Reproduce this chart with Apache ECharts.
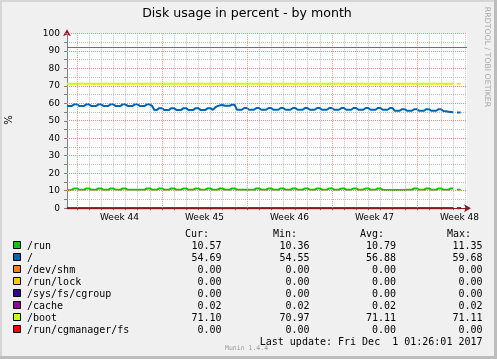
<!DOCTYPE html>
<html><head><meta charset="utf-8">
<script src="https://cdn.jsdelivr.net/npm/echarts@6/dist/echarts.min.js"></script>
<style>html,body{margin:0;padding:0;background:#f0f0f0}#c{width:497px;height:359px}</style>
</head><body><div id="c"></div>
<script>
// ---------- data ----------
const titleText = 'Disk usage in percent - by month';
const weekLabels = ['Week 44', 'Week 45', 'Week 46', 'Week 47', 'Week 48'];
const seriesNames = ['/run', '/', '/dev/shm', '/run/lock', '/sys/fs/cgroup', '/cache', '/boot', '/run/cgmanager/fs'];
const seriesColors = ['#00cc00', '#0066b3', '#ff8000', '#ffcc00', '#330099', '#990099', '#ccff00', '#ff0000'];
const curValues = ['10.57', '54.69', '0.00', '0.00', '0.00', '0.02', '71.10', '0.00'];
const minValues = ['10.36', '54.55', '0.00', '0.00', '0.00', '0.02', '70.97', '0.00'];
const avgValues = ['10.79', '56.88', '0.00', '0.00', '0.00', '0.02', '71.11', '0.00'];
const maxValues = ['11.35', '59.68', '0.00', '0.00', '0.00', '0.02', '71.11', '0.00'];
const lastUpdate = 'Last update: Fri Dec  1 01:26:01 2017';
const warningLevel = 92;
const majorYValues = [10, 20, 30, 40, 50, 60, 70, 80, 90, 100];

// time in days, measured from the start of Week 44
const axisStartDay = -0.82, axisEndDay = 32.12;
const weekStartDays = [0, 7, 14, 21, 28];
const gridDays = ['0','1','2','3','4','5','6','7','8','9','10','11','12','13','14','15','16','17','18','19','20','21','22','23','24','25','26','27','28','29','30','31','32'];
const sampleStartDay = -0.82, sampleStepDay = 0.2;
const tailDays = [31.3, 31.6];

// /run (5 samples per day)
const runValues = [
  10.3,10.3,10.55,11.3,11.3,
  10.55,10.55,10.55,11.3,11.3,
  10.55,10.55,10.55,11.3,11.3,
  10.55,10.55,10.55,11.3,11.3,
  10.55,10.55,10.55,11.3,11.3,
  10.55,10.55,10.55,10.55,10.55,
  10.55,10.55,10.55,11.3,11.3,
  10.55,10.55,10.55,11.3,11.3,
  10.55,10.55,10.55,11.3,11.3,
  10.55,10.55,10.55,11.3,11.3,
  10.55,10.55,10.55,11.3,11.3,
  10.55,10.55,10.55,11.3,11.3,
  10.55,10.55,10.55,11.3,11.3,
  10.55,10.55,10.55,11.3,11.3,
  10.55,10.55,10.55,10.55,10.55,
  10.55,10.55,10.55,11.3,11.3,
  10.55,10.55,10.55,11.3,11.3,
  10.55,10.55,10.55,11.3,11.3,
  10.55,10.55,10.55,11.3,11.3,
  10.55,10.55,10.55,11.3,11.3,
  10.55,10.55,10.55,11.3,11.3,
  10.55,10.55,10.55,11.3,11.3,
  10.55,10.55,10.55,11.3,11.3,
  10.55,10.55,10.55,11.3,11.3,
  10.55,10.55,10.55,11.3,11.3,
  10.55,10.55,10.55,11.3,11.3,
  10.4,10.4,10.4,10.4,10.4,
  10.4,10.4,10.4,10.4,10.4,
  10.55,10.55,10.55,11.3,11.3,
  10.55,10.55,10.55,11.3,11.3,
  10.55,10.55,10.55,11.3,11.3,
  10.55,10.55,10.55,11.3,11.3
];
// / (5 samples per day)
const rootValues = [
  58.5,58.5,58.5,59.4,59.4,
  58.5,58.5,58.5,59.4,59.4,
  58.5,58.5,58.5,59.4,59.4,
  58.5,58.5,58.5,59.4,59.4,
  58.5,58.5,58.5,59.4,59.4,
  58.5,58.5,58.5,59.4,59.4,
  58.5,58.5,58.5,59.4,59.4,
  58.5,56.2,56.2,57.2,57.2,
  56.2,56.2,56.2,57.2,57.2,
  56.2,56.2,56.2,57.2,57.2,
  56.2,56.2,56.2,57.2,57.2,
  56.2,56.2,56.2,57.2,57.2,
  56.2,57.6,58.4,58.8,59.0,
  58.6,58.6,58.6,59.2,59.2,
  56.3,56.3,56.3,57.3,57.3,
  56.3,56.3,56.3,57.3,57.3,
  56.3,56.3,56.3,57.3,57.3,
  56.3,56.3,56.3,57.3,57.3,
  56.3,56.3,56.3,57.3,57.3,
  56.3,56.3,56.3,57.3,57.3,
  56.3,56.3,56.3,57.3,57.3,
  56.3,56.3,56.3,57.3,57.3,
  56.3,56.3,56.3,57.3,57.3,
  56.3,56.3,56.3,57.3,57.3,
  56.3,56.3,56.3,57.3,57.3,
  56.3,56.3,56.3,57.3,57.3,
  56.3,56.3,56.3,57.3,57.3,
  55.7,55.7,55.7,56.6,56.6,
  55.7,55.7,55.7,56.6,56.6,
  55.7,55.7,55.7,56.6,56.6,
  55.7,55.7,55.7,56.6,56.6,
  55.6,55.4,55.2,55.0,54.8
];
// flat series: values at the first and last sample day
const flatDays = [-0.82, 30.98];
const devShmValues = [0, 0];
const runLockValues = [0, 0];
const cgroupValues = [0, 0];
const cacheValues = [0.02, 0.02];
const bootValues = [71.1, 71.1];
const cgmanagerValues = [0, 0];

// ---------- build ----------
function sampled(vals) { return vals.map((v, i) => [sampleStartDay + i * sampleStepDay, v]); }
function flat(vals) { return vals.map((v, i) => [flatDays[i], v]); }
function withTail(pts, tailValue) {
  const lastX = pts[pts.length - 1][0];
  return pts.concat([[(lastX + tailDays[0]) / 2, '-']], tailDays.map(d => [d, tailValue]));
}
const seriesData = [
  sampled(runValues), sampled(rootValues), flat(devShmValues), flat(runLockValues),
  flat(cgroupValues), flat(cacheValues), flat(bootValues), flat(cgmanagerValues)
].map((pts, i) => withTail(pts, parseFloat(curValues[i])));

const FONT = 'DejaVu Sans';
const MONO = 'DejaVu Sans Mono';
const gridColor = '#bcbcbc', mgridColor = '#f08c8c', none = 'rgba(0,0,0,0)';

// plot geometry (pixels)
const plotLeft = 67, plotRight = 467, plotTop = 33.3, plotBottomPad = 150.8;
const pxPerDay = (plotRight - plotLeft) / (axisEndDay - axisStartDay);
const dayToPx = d => plotLeft + (d - axisStartDay) * pxPerDay;
const labelOffsetDay = 3.5;
const lastGridDay = gridDays.length - 1;

const series = [{
  // major (week / every 10 %) grid lines, under the data
  name: 'major-grid', type: 'line', xAxisIndex: 0, yAxisIndex: 0, data: [], z: 1, silent: true,
  markLine: {
    silent: true, symbol: 'none', label: { show: false }, animation: false,
    lineStyle: { color: mgridColor, width: 1, type: 'dotted' },
    data: weekStartDays.map(d => ({ xAxis: d })).concat(majorYValues.map(v => ({ yAxis: v })))
  }
}].concat(seriesNames.map((name, i) => ({
  name, type: 'line', xAxisIndex: 0, yAxisIndex: 0, z: 2,
  data: seriesData[i], symbol: 'none', showSymbol: false,
  lineStyle: { color: seriesColors[i], width: 2 }, itemStyle: { color: seriesColors[i] },
  emphasis: { disabled: true }, silent: true, connectNulls: false,
  markLine: i === 0 ? {
    silent: true, symbol: 'none', label: { show: false },
    lineStyle: { color: '#2f9a2f', width: 1, type: 'solid' },
    data: [{ yAxis: warningLevel }]
  } : undefined
})));

// legend table as text
const graphics = [];
const rowY0 = 246, rowStep = 12;
graphics.push({ type: 'text', style: { text: titleText, x: 247, y: 14, font: '12.6px ' + FONT, fill: '#000', textAlign: 'center', textVerticalAlign: 'middle' } });
graphics.push({ type: 'text', x: 487, y: 57, rotation: -Math.PI / 2, style: { text: 'RRDTOOL / TOBI OETIKER', font: '7.8px ' + FONT, fill: '#a8a8a8', textAlign: 'center', textVerticalAlign: 'middle' } });
graphics.push({ type: 'text', x: 9, y: 120, rotation: Math.PI / 2, style: { text: '%', font: '10px ' + FONT, fill: '#000', textAlign: 'center', textVerticalAlign: 'middle' } });
const headers = [['Cur:', 185], ['Min:', 273], ['Avg:', 360], ['Max:', 447]];
headers.forEach(h => graphics.push({ type: 'text', style: { text: h[0], x: h[1], y: 234, font: '10px ' + MONO, fill: '#000', textVerticalAlign: 'middle' } }));
const colRight = [221.5, 309.5, 396, 482.5];
seriesNames.forEach((name, i) => {
  const y = rowY0 + i * rowStep;
  graphics.push({ type: 'rect', shape: { x: 13.5, y: y - 4.5, width: 7, height: 7 }, style: { fill: seriesColors[i], stroke: '#000', lineWidth: 1 } });
  graphics.push({ type: 'text', style: { text: name, x: 27, y: y, font: '10px ' + MONO, fill: '#000', textVerticalAlign: 'middle' } });
  [curValues, minValues, avgValues, maxValues].forEach((arr, c) => {
    graphics.push({ type: 'text', style: { text: arr[i], x: colRight[c], y: y, font: '10px ' + MONO, fill: '#000', textAlign: 'right', textVerticalAlign: 'middle' } });
  });
});
graphics.push({ type: 'text', style: { text: lastUpdate, x: 482.5, y: 342, font: '10px ' + MONO, fill: '#000', textAlign: 'right', textVerticalAlign: 'middle' } });
graphics.push({ type: 'text', style: { text: 'Munin 1.4.4', x: 225, y: 348, font: '6.5px ' + MONO, fill: '#9a9a9a', textVerticalAlign: 'middle' } });
// frame
graphics.push({ type: 'rect', shape: { x: 0, y: 0, width: 497, height: 2 }, style: { fill: '#d6d6d6' } });
graphics.push({ type: 'rect', shape: { x: 0, y: 0, width: 2, height: 359 }, style: { fill: '#d6d6d6' } });
graphics.push({ type: 'rect', shape: { x: 494, y: 0, width: 3, height: 359 }, style: { fill: '#bdbdbd' } });
graphics.push({ type: 'rect', shape: { x: 0, y: 356, width: 497, height: 3 }, style: { fill: '#bdbdbd' } });

const hiddenY = gi => ({ type: 'value', gridIndex: gi, min: 0, max: 100, show: false });

const chart = echarts.init(document.getElementById('c'), null, { renderer: 'canvas' });
chart.setOption({
  animation: false,
  backgroundColor: '#f0f0f0',
  grid: [
    { left: plotLeft, right: 497 - plotRight, top: plotTop, bottom: plotBottomPad, show: true, backgroundColor: '#ffffff', borderWidth: 0, containLabel: false, outerBoundsMode: 'none' },
    // day grid lines start at day 0 (start of Week 44)
    { left: dayToPx(0), width: lastGridDay * pxPerDay, top: plotTop, bottom: plotBottomPad, show: false, containLabel: false, outerBoundsMode: 'none' },
    // week labels sit mid-week
    { left: dayToPx(labelOffsetDay), width: 28 * pxPerDay, top: plotTop, bottom: plotBottomPad, show: false, containLabel: false, outerBoundsMode: 'none' }
  ],
  xAxis: [
    { // series axis with the axis line and arrow
      type: 'value', gridIndex: 0, min: axisStartDay, max: axisEndDay, z: 5,
      axisLine: { show: true, onZero: false, symbol: ['none', 'arrow'], symbolSize: [6, 7], symbolOffset: [0, 4], lineStyle: { color: '#8b1a1a', width: 1 } },
      axisLabel: { show: false }, axisTick: { show: false }, splitLine: { show: false }
    },
    { // day grid (gray); week starts are drawn by the major grid
      type: 'category', gridIndex: 1, data: gridDays, boundaryGap: false, z: 0,
      axisLine: { show: false, onZero: false }, axisLabel: { show: false, interval: 0 },
      axisTick: { show: true, interval: 0, length: 2, lineStyle: { color: '#777' } },
      splitLine: { show: true, interval: 0, lineStyle: { color: [none, gridColor, gridColor, gridColor, gridColor, gridColor, gridColor], type: 'dotted', width: 1 } }
    },
    { // week labels
      type: 'value', gridIndex: 2, min: 0, max: 28, interval: 7, z: 5,
      axisLine: { show: false, onZero: false }, axisTick: { show: false }, splitLine: { show: false },
      axisLabel: {
        show: true, margin: 5, fontFamily: FONT, fontSize: 9, color: '#000', showMinLabel: true, showMaxLabel: true,
        formatter: v => weekLabels[Math.round(v / 7)] || ''
      }
    }
  ],
  yAxis: [
    {
      type: 'value', gridIndex: 0, min: 0, max: 100, interval: 5, z: 2,
      axisLine: { show: true, onZero: false, lineStyle: { color: '#808080', width: 1 } },
      axisTick: { show: true, length: 3, lineStyle: { color: '#808080' } },
      axisLabel: { margin: 7, fontFamily: FONT, fontSize: 9, color: '#000', formatter: v => (v % 10 === 0 ? String(v) : '') },
      splitLine: { show: true, showMinLine: true, showMaxLine: true, lineStyle: { color: [none, gridColor], type: 'dotted', width: 1 } }
    },
    {
      type: 'value', gridIndex: 0, min: 0, max: 100, interval: 10, position: 'left', z: 1,
      axisLine: { show: true, onZero: false, symbol: ['none', 'arrow'], symbolSize: [6, 7], symbolOffset: [0, 4], lineStyle: { color: '#8b1a1a', width: 1 } },
      axisTick: { show: false }, axisLabel: { show: false }, splitLine: { show: false }
    },
    hiddenY(1),
    hiddenY(2)
  ],
  series,
  graphic: { elements: graphics }
});
</script></body></html>
